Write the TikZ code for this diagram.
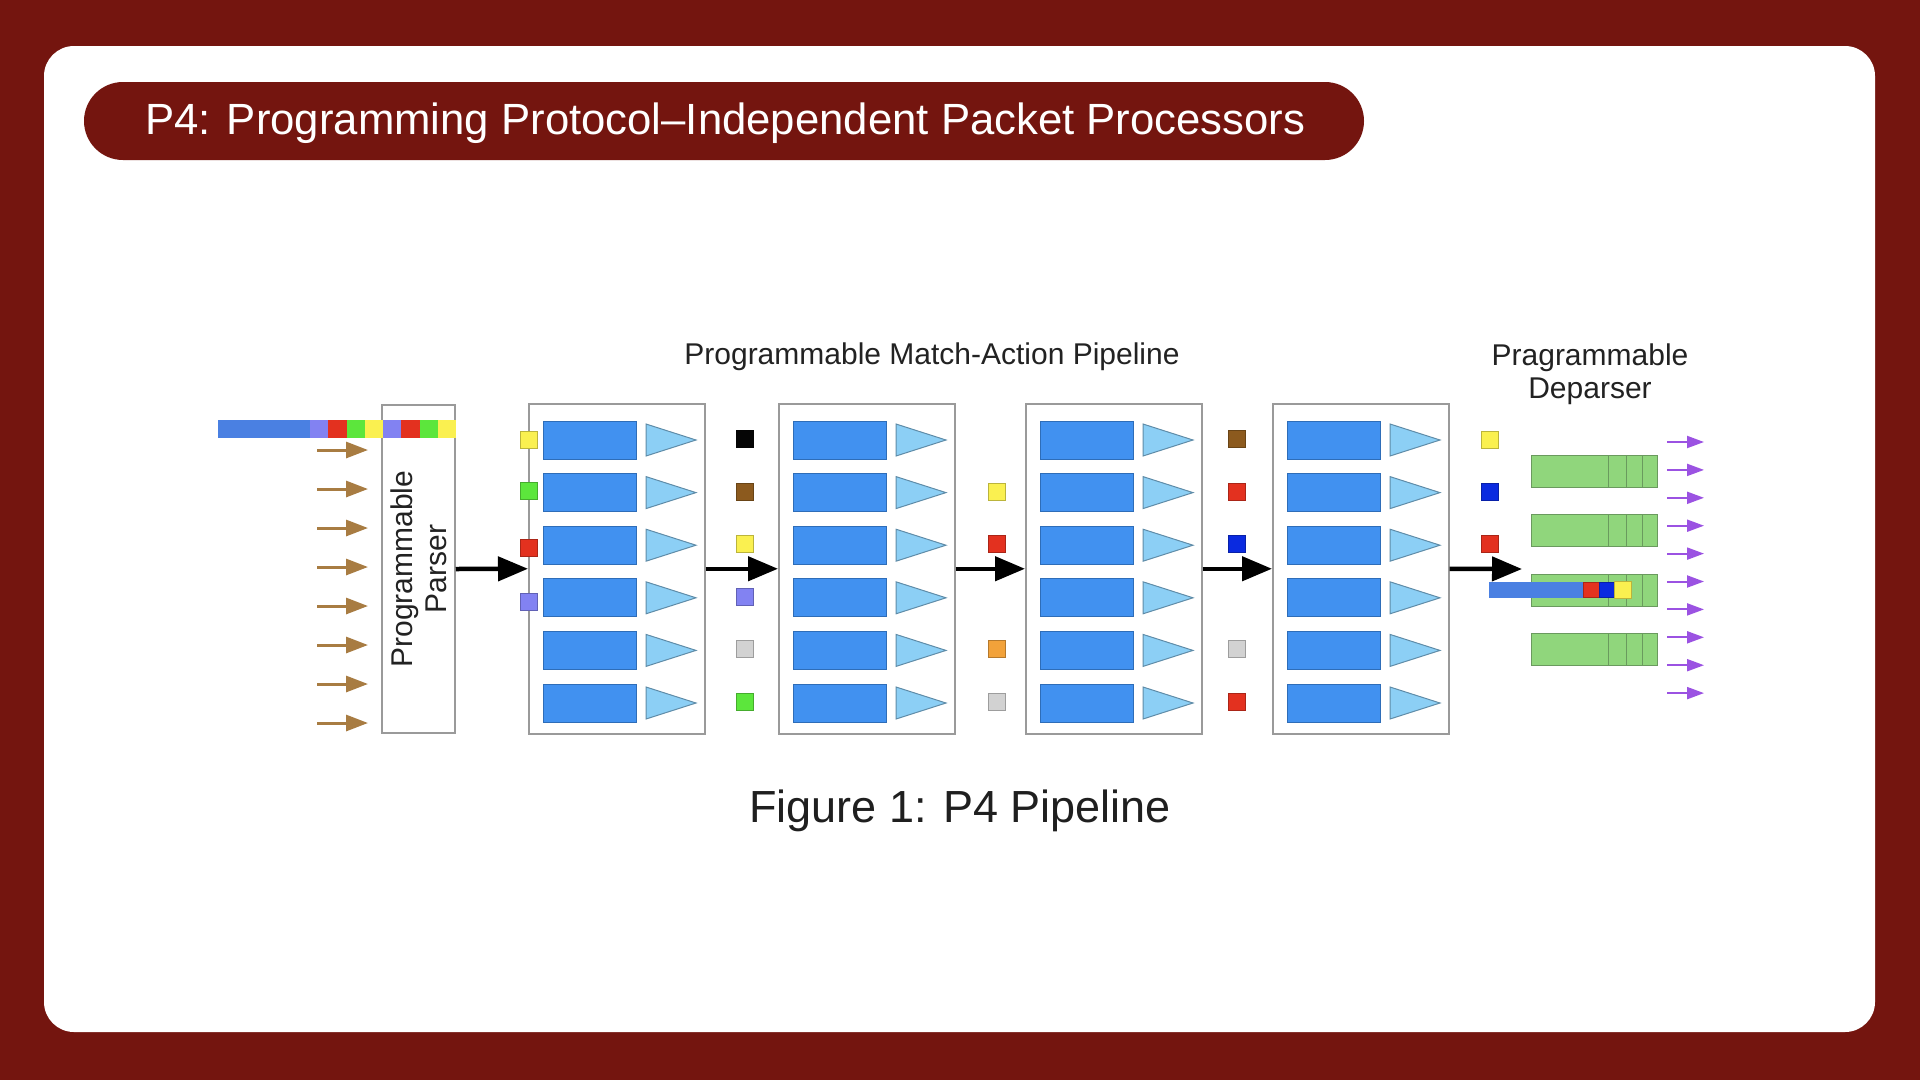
\documentclass[tikz,border=0pt]{standalone}
\usepackage{fontspec}
\setmainfont{Liberation Sans}
\usetikzlibrary{arrows.meta}

\definecolor{bgred}{HTML}{74150F}
\definecolor{textdark}{HTML}{222222}
\definecolor{boxgray}{HTML}{9A9A9A}
\definecolor{matblue}{HTML}{4191F0}
\definecolor{matedge}{HTML}{2E6DB8}
\definecolor{actfill}{HTML}{8CCFF5}
\definecolor{actedge}{HTML}{5F8CA8}
\definecolor{pktblue}{HTML}{4A80E2}
\definecolor{hlav}{HTML}{8282F2}
\definecolor{hred}{HTML}{E3311F}
\definecolor{hgreen}{HTML}{5CE63C}
\definecolor{hyellow}{HTML}{FAF050}
\definecolor{hblack}{HTML}{050505}
\definecolor{hbrown}{HTML}{8C5A1E}
\definecolor{hgray}{HTML}{D2D2D2}
\definecolor{horange}{HTML}{F2A23A}
\definecolor{hblue}{HTML}{0A2AE0}
\definecolor{bufgreen}{HTML}{90D67C}
\definecolor{bufedge}{HTML}{6A9A5E}
\definecolor{inbrown}{HTML}{A87C42}
\definecolor{outpurple}{HTML}{9B52E2}

\tikzset{
  stagebox/.style={draw=boxgray, line width=1.5pt, fill=white, inner sep=0pt,
    minimum width=176pt, minimum height=330pt, anchor=north west},
  parserbox/.style={draw=boxgray, line width=1.5pt, fill=white, inner sep=0pt,
    minimum width=73pt, minimum height=328pt},
  matchblock/.style={draw=matedge, fill=matblue, line width=1pt, inner sep=0pt,
    minimum width=93pt, minimum height=38pt},
  actiontri/.style={draw=actedge, fill=actfill, line width=1pt, line join=miter},
  hdr/.style={draw=#1!75!black, fill=#1, line width=0.9pt, inner sep=0pt, minimum size=17pt},
  seg/.style={fill=#1, draw=none, inner sep=0pt, minimum height=18pt, minimum width=18.4pt},
  bufblock/.style={draw=bufedge, fill=bufgreen, line width=1pt, inner sep=0pt,
    minimum width=126pt, minimum height=32pt},
  bigarrow/.style={line width=4.5pt, -{Triangle[length=30pt,width=24pt]}},
  inarrow/.style={draw=inbrown, line width=3pt, -{Triangle[length=22pt,width=16pt]}},
  outarrow/.style={draw=outpurple, line width=2pt, -{Triangle[length=17pt,width=12pt]}},
  label/.style={text=textdark, align=center, inner sep=0pt}
}

% six match-action rows of one stage; #1 = stage name, #2 = left edge of the stage
\newcommand\stagerows[2]{%
  \foreach \r in {0,...,5}{%
    \pgfmathsetmacro\yc{440+52.6*\r}%
    \node[matchblock] (#1m\r) at (#2+61.5,\yc) {};
    \filldraw[actiontri] (#2+118,\yc-16) -- (#2+168,\yc) -- (#2+118,\yc+16) -- cycle;
  }%
}

\begin{document}
\begin{tikzpicture}[x=1pt,y=-1pt]
  % frame
  \useasboundingbox (0,0) rectangle (1920,1080);
  \fill[bgred] (0,0) rectangle (1920,1080);
  \fill[white, rounded corners=30pt] (44,46) rectangle (1875,1032);

  % heading pill
  \fill[bgred, rounded corners=39pt] (84,82) rectangle (1364,160);
  \node[anchor=west, text=white, inner sep=0pt, font=\fontsize{43.7}{52}\selectfont]
    (title) at (145,123) {P4: Programming Protocol–Independent Packet Processors};

  % labels
  \node[label, font=\fontsize{30}{36}\selectfont] (pipetitle) at (932,357)
    {Programmable Match-Action Pipeline};
  \node[label, font=\fontsize{30}{33}\selectfont] (deptitle) at (1590,374)
    {Pragrammable\\Deparser};

  % incoming header arrows
  \foreach \i in {0,...,7}{
    \pgfmathsetmacro\ya{450+39*\i}
    \draw[inarrow] (317,\ya) -- (368,\ya);
  }

  % parser
  \node[parserbox] (parser) at (418.5,569) {};
  \node[label, rotate=90, font=\fontsize{30}{34}\selectfont] (parsertext) at (parser.center)
    {Programmable\\Parser};

  % incoming packet bar
  \node[seg=pktblue, minimum width=92pt, anchor=west] (pkt0) at (218,429) {};
  \foreach \c [count=\k from 0] in {hlav,hred,hgreen,hyellow,hlav,hred,hgreen,hyellow}{
    \node[seg=\c, anchor=west] (pkt\k) at (310+18.25*\k,429) {};
  }

  % stages
  \node[stagebox] (s1) at (528,403) {};
  \node[stagebox] (s2) at (778,403) {};
  \node[stagebox] (s3) at (1025,403) {};
  \node[stagebox] (s4) at (1272,403) {};
  \stagerows{s1}{528}
  \stagerows{s2}{778}
  \stagerows{s3}{1025}
  \stagerows{s4}{1272}

  % parsed header fields between stages
  \node[hdr=hyellow] (h0a) at (528.5,440) {};
  \node[hdr=hgreen]  (h0b) at (528.5,491) {};
  \node[hdr=hred]    (h0c) at (528.5,548) {};
  \node[hdr=hlav]    (h0d) at (528.5,602) {};

  \node[hdr=hblack]  (h1a) at (744.5,439) {};
  \node[hdr=hbrown]  (h1b) at (744.5,492) {};
  \node[hdr=hyellow] (h1c) at (744.5,544) {};
  \node[hdr=hlav]    (h1d) at (744.5,597) {};
  \node[hdr=hgray]   (h1e) at (744.5,649) {};
  \node[hdr=hgreen]  (h1f) at (744.5,702) {};

  \node[hdr=hyellow] (h2a) at (997,492) {};
  \node[hdr=hred]    (h2b) at (997,544) {};
  \node[hdr=horange] (h2c) at (997,649) {};
  \node[hdr=hgray]   (h2d) at (997,702) {};

  \node[hdr=hbrown]  (h3a) at (1237,439) {};
  \node[hdr=hred]    (h3b) at (1237,492) {};
  \node[hdr=hblue]   (h3c) at (1237,544) {};
  \node[hdr=hgray]   (h3d) at (1237,649) {};
  \node[hdr=hred]    (h3e) at (1237,702) {};

  \node[hdr=hyellow] (h4a) at (1490,440) {};
  \node[hdr=hblue]   (h4b) at (1490,492) {};
  \node[hdr=hred]    (h4c) at (1490,544) {};

  % deparser buffers
  \foreach \yb [count=\k] in {471,530,590,649}{
    \node[bufblock] (buf\k) at (1594,\yb) {};
    \foreach \xd in {1608,1626,1642}
      \draw[bufedge, line width=1pt] (\xd,\yb-16) -- (\xd,\yb+16);
  }

  % outgoing packet
  \node[seg=pktblue, minimum height=16pt, minimum width=94pt, anchor=west] (out0) at (1489,590) {};
  \node[hdr=hred, minimum size=15.5pt, anchor=west]    (out1) at (1583,590) {};
  \node[hdr=hblue, minimum size=15.5pt, anchor=west]   (out2) at (1598.5,590) {};
  \node[hdr=hyellow, minimum size=17pt, anchor=west]   (out3) at (1614,590) {};

  % flow between blocks
  \coordinate (depin) at (1522,569);
  \draw[bigarrow] (parser.east) -- (s1.west);
  \draw[bigarrow] (s1.east) -- (s2.west);
  \draw[bigarrow] (s2.east) -- (s3.west);
  \draw[bigarrow] (s3.east) -- (s4.west);
  \draw[bigarrow] (s4.east) -- (depin);

  % outgoing arrows
  \foreach \i in {0,...,9}{
    \pgfmathsetmacro\yo{442+27.9*\i}
    \draw[outarrow] (1667,\yo) -- (1704,\yo);
  }

  % caption
  \node[label, text=black!88, font=\fontsize{45}{54}\selectfont] (caption) at (960,811)
    {Figure 1: P4 Pipeline};
\end{tikzpicture}
\end{document}
